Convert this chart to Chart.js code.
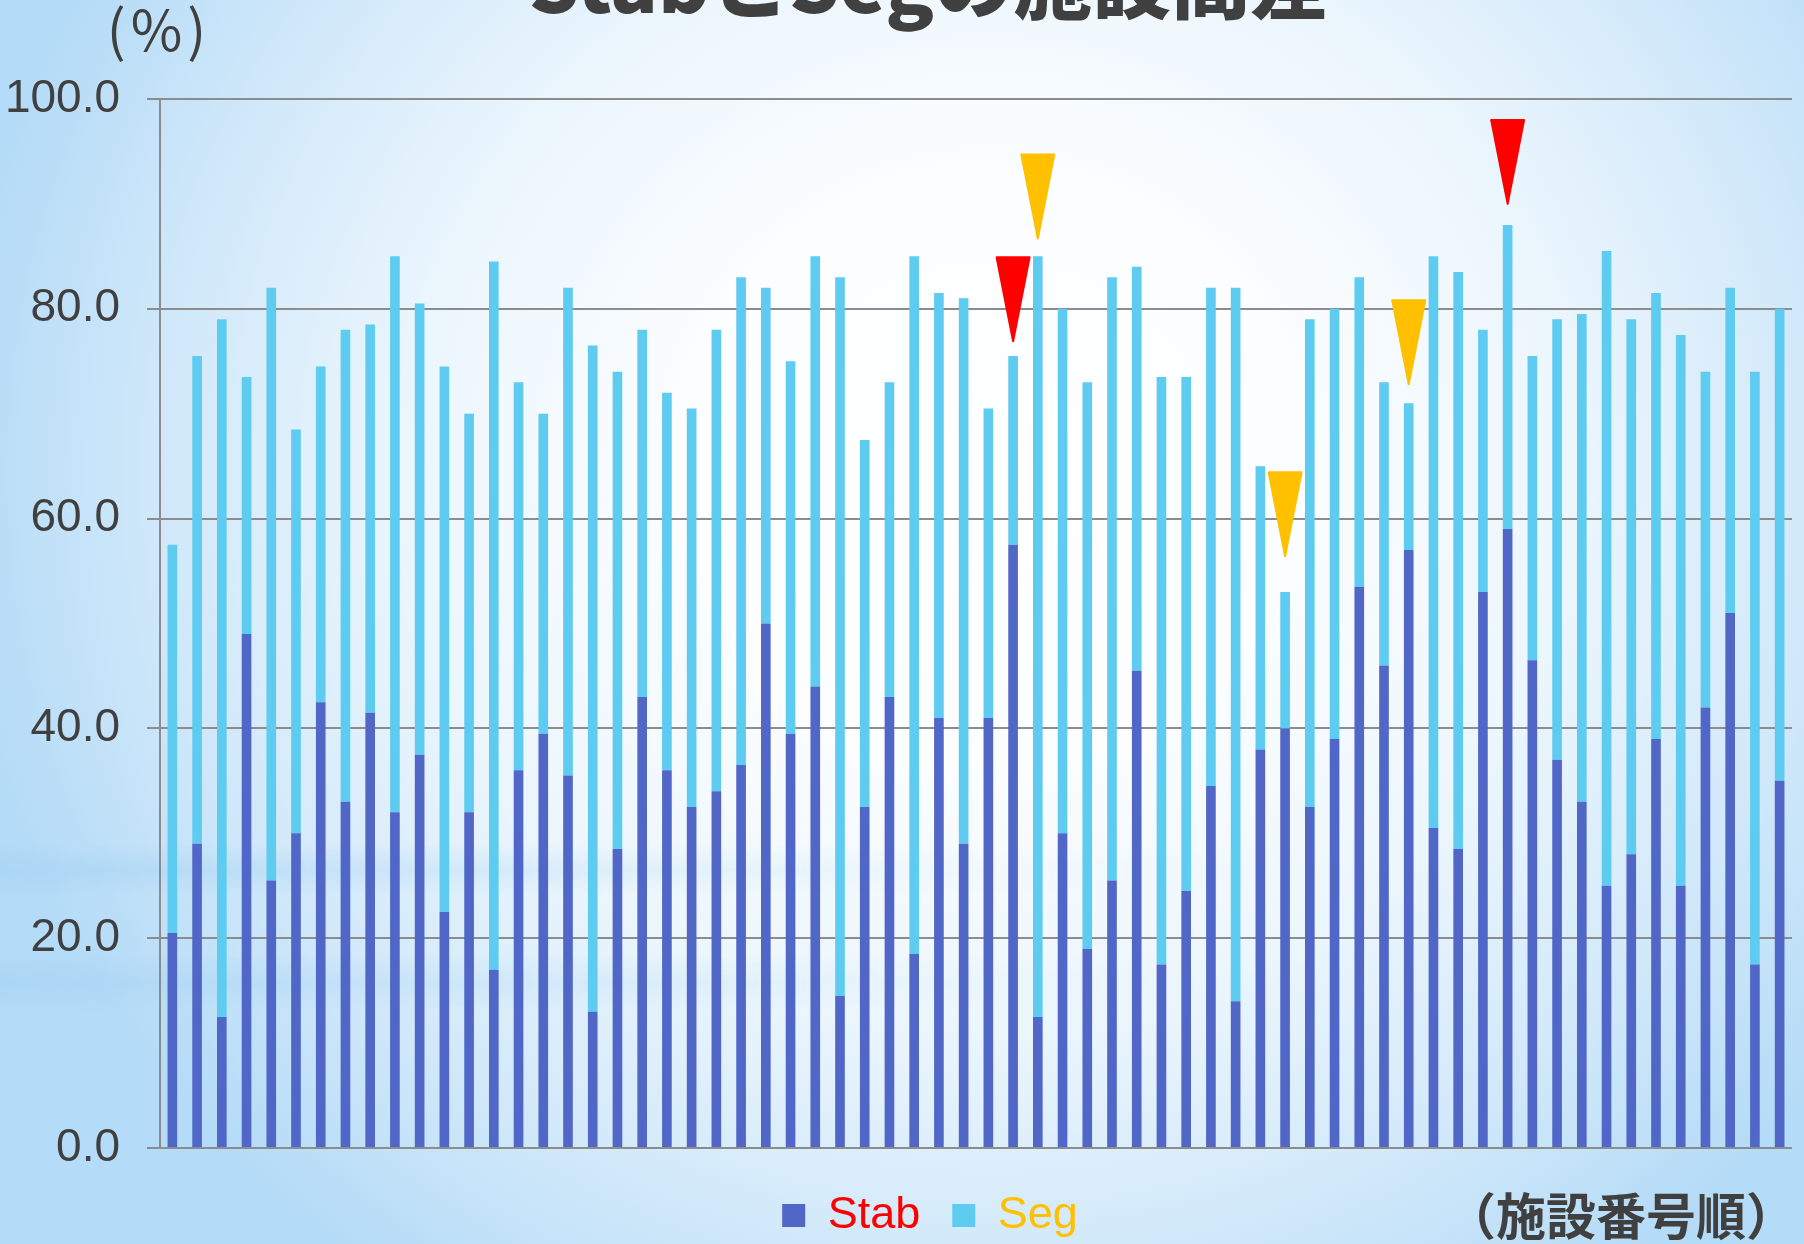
<!DOCTYPE html>
<html>
<head>
<meta charset="utf-8">
<script src="https://cdn.jsdelivr.net/npm/chart.js@4.4.1/dist/chart.umd.min.js"></script>
<style>
html, body { margin: 0; padding: 0; }
body {
  width: 1804px; height: 1244px; overflow: hidden;
  background:
    radial-gradient(ellipse 58% 80% at 55% 38%, #ffffff 0%, #fbfdff 30%, #ecf6fd 55%, #d2e9fa 78%, #b4dbf7 100%);
}
#wrap { position: relative; width: 1804px; height: 1244px; }
.band {
  position: absolute; left: 0; width: 1804px;
  background: linear-gradient(to right, rgba(168,212,244,0.75) 0%, rgba(190,224,248,0.45) 25%, rgba(220,238,252,0.15) 55%, rgba(220,238,252,0) 75%);
  -webkit-mask-image: linear-gradient(to bottom, transparent 0%, #000 50%, transparent 100%);
  mask-image: linear-gradient(to bottom, transparent 0%, #000 50%, transparent 100%);
}
#b1 { top: 845px; height: 50px; }
#b2 { top: 955px; height: 55px; }
canvas { display: block; position: absolute; left: 0; top: 0; }
</style>
</head>
<body>
<div id="wrap"><div class="band" id="b1"></div><div class="band" id="b2"></div><canvas id="c" width="1804" height="1244"></canvas></div>
<script>
// ---- data ----
const chartTitle = "StabとSegの施設間差";
const unitLabel = "(%)";
const orderNote = "（施設番号順）";
const seriesNames = ["Stab", "Seg"];
const facilityNumbers = [1,2,3,4,5,6,7,8,9,10,11,12,13,14,15,16,17,18,19,20,21,22,23,24,25,26,27,28,29,30,31,32,33,34,35,36,37,38,39,40,41,42,43,44,45,46,47,48,49,50,51,52,53,54,55,56,57,58,59,60,61,62,63,64,65,66];
const stabValues = [20.5,29,12.5,49,25.5,30,42.5,33,41.5,32,37.5,22.5,32,17,36,39.5,35.5,13,28.5,43,36,32.5,34,36.5,50,39.5,44,14.5,32.5,43,18.5,41,29,41,57.5,12.5,30,19,25.5,45.5,17.5,24.5,34.5,14,38,40,32.5,39,53.5,46,57,30.5,28.5,53,59,46.5,37,33,25,28,39,25,42,51,17.5,35];
const segValues = [37,46.5,66.5,24.5,56.5,38.5,32,45,37,53,43,52,38,67.5,37,30.5,46.5,63.5,45.5,35,36,38,44,46.5,32,35.5,41,68.5,35,30,66.5,40.5,52,29.5,18,72.5,50,54,57.5,38.5,56,49,47.5,68,27,13,46.5,41,29.5,27,14,54.5,55,25,29,29,42,46.5,60.5,51,42.5,52.5,32,31,56.5,45];
const yTickValues = [0, 20, 40, 60, 80, 100];
// arrow markers: facility number and the value where the arrow tip points
const redMarkerFacilities = [35, 55];
const redMarkerTips = [76.9, 90.0];
const yellowMarkerFacilities = [36, 46, 51];
const yellowMarkerTips = [86.7, 56.4, 72.8];

// ---- styles ----
const stabColor = '#5067c8';
const segColor = '#5ecbf1';
const legendTextColors = ['#ff0000', '#ffc000'];
const textGray = '#404040';
const gridGray = '#8c8c8c';

const markerPlugin = {
  id: 'markers',
  afterLayout(chart) {
    if (chart.legend) { chart.legend.left += 34; chart.legend.right += 34; }
  },
  afterDraw(chart) {
    const ctx = chart.ctx;
    const xs = chart.scales.x, ys = chart.scales.y;
    const drawTri = (fac, tip, color) => {
      const x = xs.getPixelForValue(facilityNumbers.indexOf(fac));
      const yTip = ys.getPixelForValue(tip);
      const h = 84, w = 33;
      ctx.save();
      ctx.beginPath();
      ctx.moveTo(x - w / 2, yTip - h);
      ctx.lineTo(x + w / 2, yTip - h);
      ctx.lineTo(x, yTip);
      ctx.closePath();
      ctx.fillStyle = color;
      ctx.strokeStyle = color;
      ctx.lineWidth = 2;
      ctx.lineJoin = 'round';
      ctx.fill();
      ctx.stroke();
      ctx.restore();
    };
    redMarkerFacilities.forEach((f, i) => drawTri(f, redMarkerTips[i], '#ff0000'));
    yellowMarkerFacilities.forEach((f, i) => drawTri(f, yellowMarkerTips[i], '#ffc000'));

    ctx.save();
    ctx.fillStyle = textGray;
    ctx.textBaseline = 'alphabetic';
    ctx.textAlign = 'center';
    ctx.font = '900 79px "Noto Sans CJK JP"';
    ctx.fillText(chartTitle, 929, 13);
    ctx.textBaseline = 'middle';
    ctx.font = '56px "Noto Sans CJK JP"';
    try { ctx.letterSpacing = '5px'; } catch (e) {}
    ctx.fillText(unitLabel, 159, 30);
    try { ctx.letterSpacing = '0px'; } catch (e) {}
    ctx.textAlign = 'left';
    ctx.font = 'bold 50px "Noto Sans CJK JP"';
    ctx.fillText(orderNote, 1446, 1216);
    ctx.restore();
  }
};

new Chart(document.getElementById('c'), {
  type: 'bar',
  data: {
    labels: facilityNumbers,
    datasets: [
      { label: seriesNames[0], data: stabValues, backgroundColor: stabColor, borderWidth: 0, barPercentage: 0.39, categoryPercentage: 1.0 },
      { label: seriesNames[1], data: segValues, backgroundColor: segColor, borderWidth: 0, barPercentage: 0.39, categoryPercentage: 1.0 }
    ]
  },
  options: {
    responsive: false,
    animation: false,
    devicePixelRatio: 1,
    layout: { padding: { left: 0, right: 12, top: 99, bottom: -4 } },
    plugins: {
      title: { display: false },
      tooltip: { enabled: false },
      legend: {
        position: 'bottom',
        align: 'center',
        labels: {
          boxWidth: 23,
          boxHeight: 23,
          padding: 32,
          font: { family: '"Liberation Sans"', size: 45 },
          generateLabels(chart) {
            const items = Chart.defaults.plugins.legend.labels.generateLabels(chart);
            items.forEach((it, i) => { it.fontColor = legendTextColors[i]; it.lineWidth = 0; it.strokeStyle = 'rgba(0,0,0,0)'; });
            return items;
          }
        }
      }
    },
    scales: {
      x: {
        stacked: true,
        ticks: { display: false },
        grid: { display: true, drawOnChartArea: false, drawTicks: true, tickLength: 13, tickColor: 'rgba(0,0,0,0)' },
        border: { display: false }
      },
      y: {
        stacked: true,
        min: 0,
        max: 100,
        afterBuildTicks(scale) { scale.ticks = yTickValues.map(v => ({ value: v })); },
        afterFit(scale) { scale.width = 160; },
        ticks: {
          padding: 27,
          color: textGray,
          font: { family: '"Liberation Sans"', size: 46 },
          callback: v => Number(v).toFixed(1)
        },
        grid: { color: gridGray, lineWidth: 2, tickLength: 13, tickColor: gridGray },
        border: { display: true, color: gridGray, width: 2 }
      }
    }
  },
  plugins: [markerPlugin]
});
</script>
</body>
</html>
